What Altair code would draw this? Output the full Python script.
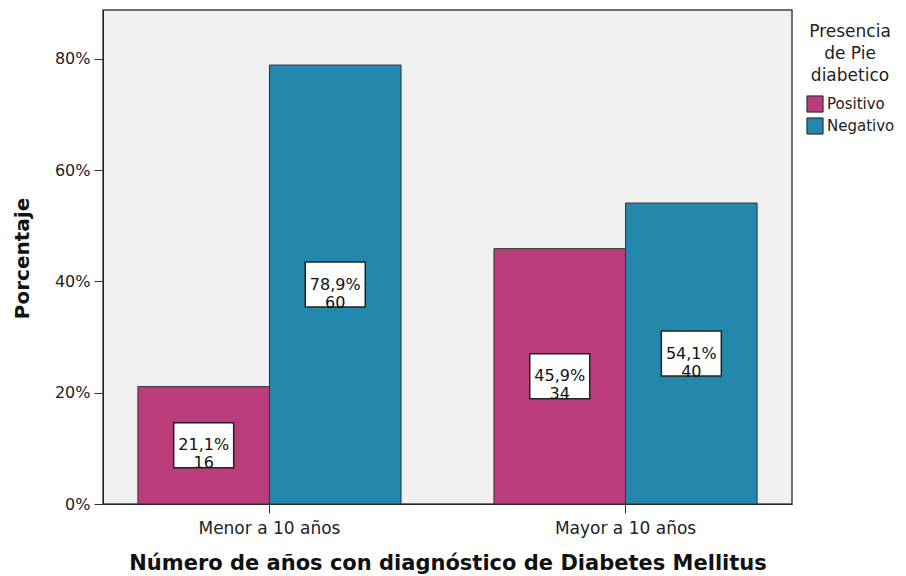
import altair as alt
import pandas as pd

grupos = ["Menor a 10 años", "Menor a 10 años", "Mayor a 10 años", "Mayor a 10 años"]
pie = ["Positivo", "Negativo", "Positivo", "Negativo"]
porcentaje = [21.1, 78.9, 45.9, 54.1]
conteo = [16, 60, 34, 40]

orden_grupos = ["Menor a 10 años", "Mayor a 10 años"]
orden_pie = ["Positivo", "Negativo"]
colores = ["#BA3E7C", "#2388AB"]

df = pd.DataFrame({
    "grupo": grupos,
    "pie": pie,
    "pct": [p / 100 for p in porcentaje],
    "mid": [p / 200 for p in porcentaje],
    "label": [f"{str(p).replace('.', ',')}%\n{c}" for p, c in zip(porcentaje, conteo)],
})

FONT = "DejaVu Sans"

x_enc = alt.X(
    "grupo:N",
    sort=orden_grupos,
    scale=alt.Scale(paddingInner=0.261, paddingOuter=0.098),
    axis=alt.Axis(
        title="Número de años con diagnóstico de Diabetes Mellitus",
        labelAngle=0,
        labelFont=FONT,
        labelFontSize=17,
        labelColor="#222",
        labelPadding=7,
        tickSize=9,
        tickColor="#333",
        domainColor="#222",
        titleFont=FONT,
        titleFontSize=21,
        titleFontWeight="bold",
        titleColor="#111",
        titleX=344.5,
        titleY=59,
        titleBaseline="middle",
    ),
)
xoff = alt.XOffset("pie:N", sort=orden_pie, scale=alt.Scale(paddingInner=0, paddingOuter=0))

bars = alt.Chart(df).mark_bar(stroke="#333", strokeWidth=1).encode(
    x=x_enc,
    xOffset=xoff,
    y=alt.Y(
        "pct:Q",
        scale=alt.Scale(domain=[0, 0.888], nice=False, zero=True),
        axis=alt.Axis(
            title="Porcentaje",
            format=".0%",
            values=[0, 0.2, 0.4, 0.6, 0.8],
            grid=False,
            labelFont=FONT,
            labelFontSize=16,
            labelColor="#222",
            labelPadding=4,
            tickSize=9,
            tickColor="#333",
            domainColor="#222",
            titleFont=FONT,
            titleFontSize=20,
            titleFontWeight="bold",
            titleColor="#111",
            titleX=-81,
            titleY=248,
            titleBaseline="middle",
            titleAlign="center",
        ),
    ),
    color=alt.Color(
        "pie:N",
        sort=orden_pie,
        scale=alt.Scale(domain=orden_pie, range=colores),
        legend=alt.Legend(
            title=["Presencia", "de Pie", "diabetico"],
            orient="none",
            legendX=703,
            legendY=14,
            titleFont=FONT,
            titleFontSize=17,
            titleFontWeight="normal",
            titleColor="#222",
            titleLineHeight=22,
            titleAnchor="middle",
            titleAlign="center",
            titlePadding=10,
            labelFont=FONT,
            labelFontSize=15,
            labelColor="#222",
            labelOffset=3,
            symbolType="square",
            symbolSize=260,
            symbolStrokeColor="#222",
            symbolStrokeWidth=1,
            symbolOpacity=1,
            rowPadding=0,
            padding=0,
        ),
    ),
)

boxes = alt.Chart(df).mark_point(
    shape="M-1,-0.75L1,-0.75L1,0.75L-1,0.75Z",
    size=3600,
    filled=True,
    fill="white",
    stroke="#222",
    strokeWidth=1.5,
    opacity=1,
).encode(x=alt.X("grupo:N", sort=orden_grupos), xOffset=xoff, y=alt.Y("mid:Q"))

texts = alt.Chart(df).mark_text(
    font=FONT,
    fontSize=16,
    lineHeight=18,
    lineBreak="\n",
    color="#111",
    baseline="middle",
    align="center",
).encode(x=alt.X("grupo:N", sort=orden_grupos), xOffset=xoff, y=alt.Y("mid:Q"), text="label:N")

chart = alt.layer(bars, boxes, texts).properties(
    width=689,
    height=494,
    autosize=alt.AutoSizeParams(type="none"),
    padding={"left": 95, "top": 2, "right": 106, "bottom": 70},
).configure_view(
    fill="#F0F0F0",
    stroke="#444",
    strokeWidth=1.5,
)

chart.save("out.html", embed_options={"renderer": "svg", "actions": False})
